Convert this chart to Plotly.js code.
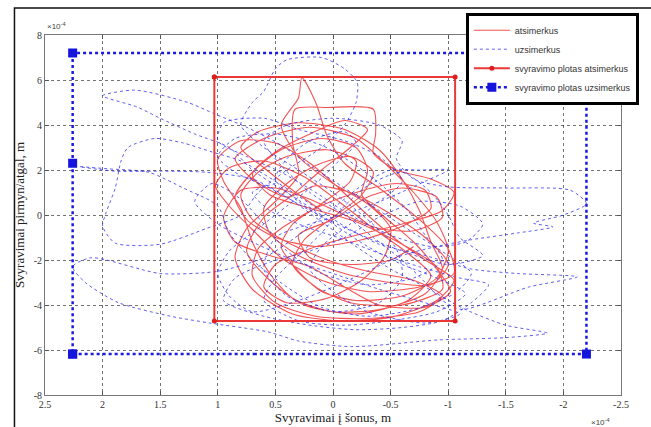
<!DOCTYPE html>
<html>
<head>
<meta charset="utf-8">
<script src="https://cdn.plot.ly/plotly-3.0.1.min.js"></script>
<style>html,body{margin:0;padding:0;background:#fff;}#chart{width:651px;height:427px;}</style>
</head>
<body>
<div id="chart"></div>
<script>
// ---- data (units x10^-4 m), points ----
const seriesNames = ["atsimerkus", "uzsimerkus", "svyravimo plotas atsimerkus", "svyravimo plotas uzsimerkus"];

// eyes open trajectory [x, y]
const redPath = [
 [0.10,0.20],[0.35,1.10],[0.60,2.10],[0.80,3.00],[0.65,3.70],[0.30,4.10],[-0.10,3.80],[-0.40,2.90],[-0.60,1.60],[-0.75,0.20],
 [-0.85,-1.20],[-0.95,-2.40],[-0.80,-3.50],[-0.40,-4.20],[0.00,-4.30],[0.35,-3.70],[0.55,-2.60],[0.70,-1.20],[0.80,0.30],[0.95,1.50],
 [1.00,2.50],[0.80,3.30],[0.50,3.20],[0.20,2.30],[-0.05,1.20],[-0.30,0.00],[-0.55,-1.10],[-0.80,-2.00],[-1.05,-2.90],[-0.90,-3.80],
 [-0.50,-4.55],[-0.05,-4.70],[0.35,-4.40],[0.70,-3.30],[0.85,-1.90],[0.75,-0.60],[0.50,0.60],[0.30,1.80],[0.35,3.20],[0.33,4.70],
 [0.05,4.78],[-0.35,4.70],[-0.37,3.60],[-0.35,2.75],[-0.55,2.00],[-0.85,1.60],[-1.05,1.00],[-0.95,0.20],[-0.60,-0.40],[-0.20,-0.90],
 [0.20,-1.50],[0.50,-2.20],[0.60,-3.20],[0.40,-3.90],[0.05,-3.70],[-0.25,-2.90],[-0.45,-1.80],[-0.50,-0.60],[-0.30,0.50],[0.00,1.40],
 [0.30,2.60],[0.45,4.00],[0.30,5.20],[0.27,6.10],[0.15,5.00],[0.05,3.50],[-0.10,2.30],[-0.40,1.20],[-0.75,-0.20],[-1.00,-1.50],
 [-1.05,-2.60],[-0.75,-3.20],[-0.30,-3.40],[0.10,-2.90],[0.45,-1.90],[0.65,-0.90],[0.90,0.40],[1.02,1.30],[0.90,2.10],[0.60,2.40],
 [0.25,1.70],[-0.05,0.60],[-0.35,-0.60],[-0.65,-1.70],[-0.85,-2.70],[-0.65,-3.80],[-0.20,-4.40],[0.25,-4.00],[0.55,-2.90],[0.75,-1.60],
 [0.60,-0.10],[0.35,0.90],[0.10,2.00],[-0.15,3.00],[-0.30,3.80],[-0.10,4.20],[0.20,3.60],[0.50,2.80],[0.70,1.80],[0.55,0.90],
 [0.20,0.30],[-0.20,-0.30],[-0.60,-1.30],[-0.90,-2.30],[-0.95,-3.30],[-0.60,-4.00],[-0.15,-3.90],[0.15,-3.20],[0.35,-2.20],[0.25,-1.10],
 [0.00,-0.10],[-0.25,0.90],[-0.35,1.90],[-0.15,2.60],[0.15,2.20],[0.40,1.40],[0.60,0.30],[0.55,-0.80],[0.30,-1.80],[-0.10,-2.60],
 [-0.50,-3.00],[-0.85,-3.10],[-1.00,-2.20],[-0.80,-1.00],[-0.45,0.20],[-0.15,1.00],[0.15,1.30],[0.40,0.80],[0.70,1.60],[0.85,2.50],
 [0.60,3.40],[0.20,3.90],[-0.20,3.40],[-0.45,2.30],[-0.70,1.00],[-0.90,-0.30],[-1.00,-1.60],[-0.90,-2.80],[-0.60,-3.60],[-0.20,-3.80],
 [0.10,-3.40],[0.30,-2.50],[0.45,-1.40],[0.35,-0.40],[0.10,0.50],[-0.15,1.50],[-0.20,2.40],[0.05,2.90],[0.40,2.60],[0.65,1.90],
 [0.80,0.90],[0.70,-0.20],[0.40,-1.20],[0.05,-2.00],[-0.30,-2.50],[-0.70,-2.90],[-0.95,-3.60],[-0.75,-4.30],[-0.30,-4.60],[0.15,-4.50],
 [0.50,-3.90],[0.70,-2.70],[0.65,-1.50],[0.45,-0.60],[0.15,0.30],[-0.20,1.00],[-0.55,1.40],[-0.80,1.10],[-0.85,0.30],[-0.60,-0.50],
 [-0.25,-1.10],[0.15,-1.40],[0.50,-1.00],[0.75,-0.20],[0.85,0.80],[0.70,1.90],[0.45,2.90],[0.10,3.40],[-0.20,3.00],[-0.30,2.00],
 [-0.25,0.90],[-0.45,-0.10],[-0.70,-1.20],[-0.90,-2.40],[-1.02,-3.40],[-0.80,-4.10],[-0.40,-4.00],[-0.10,-3.20],[0.20,-2.30],[0.55,-1.80],
 [0.85,-1.20],[0.95,-0.10],[0.80,1.10],[0.50,1.20],[0.20,0.70],[-0.10,0.00],[-0.40,-0.60],[-0.70,-0.70],[-0.95,-0.10],[-0.90,0.80],
 [-0.60,1.20],[-0.30,0.80],[0.00,-0.20],[0.30,-0.90],[0.20,-1.90],[-0.15,-2.20],[-0.50,-2.00],[-0.70,-1.40]
];

// eyes closed trajectory [x, y]
const bluePath = [
 [0.10,0.00],[0.40,1.00],[0.70,2.00],[0.90,3.00],[1.20,3.60],[1.50,4.30],[1.70,4.80],[2.00,5.30],[1.72,5.55],[1.26,5.00],
 [1.03,4.50],[0.75,3.90],[0.45,3.10],[0.20,2.20],[-0.10,1.20],[-0.40,0.20],[-0.70,-0.80],[-1.00,-1.80],[-1.20,-2.60],[-1.05,-3.50],
 [-0.70,-4.20],[-0.30,-4.50],[0.10,-4.10],[0.40,-3.20],[0.70,-2.00],[0.90,-0.80],[1.00,0.40],[1.30,1.20],[1.60,1.90],[1.95,2.05],
 [2.20,2.15],[1.90,1.95],[1.50,1.95],[1.10,1.90],[0.70,1.60],[0.40,0.80],[0.10,-0.30],[-0.20,-1.40],[-0.50,-2.40],[-0.80,-3.20],
 [-1.15,-4.20],[-1.50,-4.90],[-1.86,-5.25],[-1.50,-5.45],[-0.92,-5.55],[-0.16,-5.85],[0.30,-5.60],[0.56,-5.20],[1.07,-4.80],[1.41,-4.50],
 [1.86,-3.90],[2.15,-3.00],[2.26,-2.30],[2.10,-1.90],[1.50,-2.60],[1.00,-2.50],[0.60,-1.90],[0.30,-0.90],[0.00,0.30],[-0.30,1.50],
 [-0.50,2.00],[-0.75,2.00],[-1.00,2.00],[-0.80,1.50],[-0.50,0.80],[-0.20,0.20],[0.20,-0.40],[0.50,-1.00],[0.60,-2.40],[0.40,-3.60],
 [0.00,-4.30],[-0.40,-3.90],[-0.60,-2.80],[-0.55,-1.50],[-0.30,-0.20],[0.00,1.00],[0.30,2.00],[0.60,3.00],[0.80,4.00],[0.70,5.00],
 [0.60,5.50],[0.50,6.50],[0.40,6.90],[0.10,7.00],[-0.10,6.50],[-0.21,5.90],[-0.20,5.00],[-0.10,4.00],[0.10,3.00],[0.40,2.00],
 [0.65,1.00],[0.80,0.00],[1.10,-0.60],[1.50,-1.30],[1.89,-1.25],[2.00,-0.50],[1.97,0.10],[1.89,1.20],[1.84,2.40],[1.78,3.00],
 [1.55,3.40],[1.30,3.20],[1.05,2.80],[0.80,2.40],[0.50,1.50],[0.20,0.50],[-0.10,-0.50],[-0.40,-1.30],[-0.80,-1.80],[-1.20,-2.40],
 [-1.60,-2.60],[-2.12,-2.75],[-1.70,-3.20],[-1.12,-4.20],[-0.95,-3.80],[-0.80,-3.00],[-0.60,-2.00],[-0.35,-1.00],[-0.10,0.00],[0.20,1.00],
 [0.45,2.20],[0.60,3.30],[0.40,4.00],[0.00,4.30],[-0.40,4.00],[-0.60,3.30],[-0.55,2.50],[-0.70,1.60],[-1.00,1.25],[-1.50,1.20],
 [-2.06,1.10],[-2.20,0.50],[-2.00,0.00],[-1.74,-0.36],[-1.91,-0.53],[-1.60,-0.80],[-1.20,-1.10],[-0.90,-1.40],[-0.60,-1.80],[-0.30,-2.50],
 [0.00,-3.20],[0.30,-3.80],[0.70,-4.30],[0.90,-3.60],[1.00,-2.60],[0.90,-1.60],[0.65,-0.60],[0.40,0.40],[0.15,1.40],[-0.05,2.40],
 [-0.20,3.20],[-0.10,3.70],[0.20,3.30],[0.40,2.50],[0.50,1.60],[0.30,0.60],[0.00,-0.40],[-0.30,-1.40],[-0.60,-2.20],[-0.90,-2.80],
 [-1.15,-3.50],[-0.90,-4.30],[-0.50,-4.70],[-0.10,-4.90],[0.30,-4.70],[0.60,-3.80],[0.50,-2.80],[0.30,-1.80],[0.10,-0.80],[-0.10,0.40],
 [-0.30,1.30],[-0.60,1.90],[-0.85,1.00],[-1.00,0.00],[-1.10,-1.00],[-1.30,-1.80],[-1.00,-2.20],[-0.60,-1.60],[-0.20,-0.80],[0.20,0.20],
 [0.55,1.20],[0.85,1.90],[1.00,2.60],[0.85,3.40],[0.50,3.60],[0.10,3.10],[-0.20,2.20],[-0.45,1.20],[-0.65,0.20],[-0.80,-0.90],
 [-0.95,-2.00],[-0.70,-2.80],[-0.30,-3.10],[0.10,-2.60],[0.40,-1.60],[0.60,-0.40],[0.80,0.70],[1.05,1.40],[1.20,0.60],[1.00,-0.40],
 [0.70,-1.20],[0.35,-2.00],[0.00,-2.60],[-0.40,-3.30],[-0.80,-3.90],[-1.10,-4.40],[-0.80,-4.80],[-0.30,-4.30],[0.00,-3.40],[0.20,-2.40],
 [0.10,-1.40],[-0.15,-0.40],[-0.40,0.60],[-0.60,1.50],[-0.40,2.60],[-0.10,3.30],[0.30,3.80],[0.60,4.30],[0.95,4.10],[1.00,3.30],
 [0.75,2.60],[0.45,1.90],[0.15,1.00],[-0.15,0.00],[-0.50,-0.90],[-0.85,-1.40],[-1.15,-1.20],[-1.30,-0.40],[-1.10,0.40],[-0.75,0.60],
 [-0.40,-0.10],[-0.10,-1.00],[0.20,-1.60],[0.55,-2.10],[0.85,-2.80],[0.95,-3.80],[0.60,-4.50],[0.20,-4.90],[-0.20,-5.10],[-0.60,-5.00],
 [-0.95,-4.70],[-1.20,-3.90],[-1.35,-3.10],[-1.10,-2.80],[-0.75,-2.30],[-0.40,-1.70],[-0.10,-1.10],[0.25,-0.50],[0.55,0.20],[0.70,1.00],
 [0.50,1.40]
];

// sway-area rectangles (corner points)
const redRectX = [1.03, -1.06, -1.06, 1.03, 1.03];
const redRectY = [6.13, 6.13, -4.71, -4.71, 6.13];
const blueRectX = [2.26, 2.26, 2.26, -2.20, -2.20, 2.26];
const blueRectY = [2.30, -6.18, -6.18, -6.18, 7.20, 7.20];
const blueRectCloseX = [2.26, 2.26];
const blueRectCloseY = [7.20, 2.30];

const xTicks = [2.5, 2, 1.5, 1, 0.5, 0, -0.5, -1, -1.5, -2, -2.5];
const xTickText = ["2.5", "2", "1.5", "1", "0.5", "0", "-0.5", "-1", "-1.5", "-2", "-2.5"];
const yTicks = [-8, -6, -4, -2, 0, 2, 4, 6, 8];
const yTickText = ["-8", "-6", "-4", "-2", "0", "2", "4", "6", "8"];

const traces = [
  {x: redPath.map(p => p[0]), y: redPath.map(p => p[1]), name: seriesNames[0], mode: "lines", type: "scatter",
   line: {color: "rgba(240,35,35,0.78)", width: 1.1, shape: "spline", smoothing: 0.7}},
  {x: bluePath.map(p => p[0]), y: bluePath.map(p => p[1]), name: seriesNames[1], mode: "lines", type: "scatter",
   line: {color: "rgba(40,40,240,0.75)", width: 1, dash: "dot", shape: "spline", smoothing: 0.7}},
  {x: redRectX, y: redRectY, name: seriesNames[2], mode: "lines+markers", type: "scatter",
   line: {color: "rgb(235,55,55)", width: 2}, marker: {color: "rgb(220,30,30)", size: 5, symbol: "circle"}},
  {x: blueRectX, y: blueRectY, name: seriesNames[3], mode: "lines+markers", type: "scatter",
   line: {color: "rgb(25,25,225)", width: 2.5, dash: "dot"}, marker: {color: "rgb(20,20,220)", size: 9, symbol: "square"}},
  {x: blueRectCloseX, y: blueRectCloseY, name: seriesNames[3], mode: "lines", type: "scatter", showlegend: false,
   line: {color: "rgb(25,25,225)", width: 2.5, dash: "dot"}}
];

const axisCommon = {
  showgrid: true, gridcolor: "rgba(0,0,0,0.55)", griddash: "dot", gridwidth: 1,
  zeroline: false, showline: true, linecolor: "#777", linewidth: 1, mirror: "ticks",
  ticks: "inside", ticklen: 4, tickcolor: "#555",
  tickfont: {family: "Liberation Serif", size: 10, color: "#333"}
};

const layout = {
  width: 651, height: 427,
  margin: {l: 45, r: 19, t: 35, b: 32},
  paper_bgcolor: "#fff", plot_bgcolor: "#fff",
  showlegend: true,
  xaxis: Object.assign({}, axisCommon, {
    range: [2.5, -2.5], tickmode: "array", tickvals: xTicks, ticktext: xTickText,
    title: {text: "Svyravimai į šonus, m", font: {family: "Liberation Serif", size: 13, color: "#222"}, standoff: 1}
  }),
  yaxis: Object.assign({}, axisCommon, {
    range: [-8, 8], tickmode: "array", tickvals: yTicks, ticktext: yTickText,
    title: {text: "Svyravimai pirmyn/atgal, m", font: {family: "Liberation Serif", size: 13, color: "#222"}, standoff: 6}
  }),
  legend: {
    x: 1.031, xanchor: "right", y: 1.062, yanchor: "top",
    bgcolor: "#fff", bordercolor: "#000", borderwidth: 3,
    font: {family: "Liberation Sans", size: 9, color: "#333"},
    itemwidth: 36, tracegroupgap: 0
  },
  annotations: [
    {xref: "paper", yref: "paper", x: 0.0, y: 1.005, xanchor: "left", yanchor: "bottom", showarrow: false,
     text: "×10<sup>-4</sup>", font: {family: "Liberation Sans", size: 8, color: "#444"}},
    {xref: "paper", yref: "paper", x: 0.945, y: -0.055, xanchor: "left", yanchor: "top", showarrow: false,
     text: "×10<sup>-4</sup>", font: {family: "Liberation Sans", size: 8, color: "#444"}}
  ],
  shapes: [
    {type: "rect", xref: "paper", yref: "paper", x0: -0.053, x1: 1.2, y0: -0.3, y1: 1.075,
     line: {color: "#111", width: 1.5}, fillcolor: "rgba(0,0,0,0)", layer: "below"}
  ]
};

Plotly.newPlot("chart", traces, layout, {displayModeBar: false, staticPlot: true});
</script>
</body>
</html>
